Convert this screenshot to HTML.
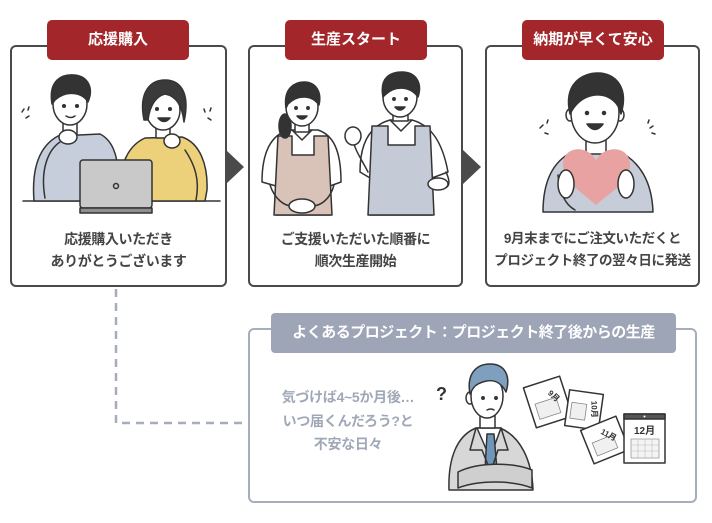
<!DOCTYPE html>
<html lang="ja">
<head>
<meta charset="utf-8">
<style>
  html,body{margin:0;padding:0;background:#fff;}
  body{width:712px;height:523px;position:relative;overflow:hidden;
    font-family:"Liberation Sans","Noto Sans CJK JP",sans-serif;}
  .box{position:absolute;box-sizing:border-box;border:2px solid #4a4a4a;border-radius:6px;background:#fff;}
  .lbl{position:absolute;height:40px;line-height:40px;background:#a3262a;color:#fff;
    font-weight:bold;font-size:15px;text-align:center;border-radius:5px;}
  .txt{position:absolute;text-align:center;font-weight:bold;font-size:14px;line-height:22px;color:#444;letter-spacing:-0.4px;white-space:nowrap;}
  .bbox{position:absolute;box-sizing:border-box;border:2.5px solid #a6aebe;border-radius:6px;background:#fff;}
  .blbl{position:absolute;height:40px;line-height:40px;background:#9da5b7;color:#fff;font-weight:bold;font-size:15px;text-align:center;border-radius:4px;letter-spacing:-0.5px;white-space:nowrap;}
  .btxt{position:absolute;text-align:center;font-size:14px;font-weight:bold;line-height:23.5px;color:#a0a8b7;white-space:nowrap;letter-spacing:-0.3px;}
  svg{position:absolute;left:0;top:0;}
</style>
</head>
<body>

<div class="box" style="left:10px;top:45px;width:217px;height:242px;"></div>
<div class="box" style="left:248px;top:45px;width:215px;height:242px;"></div>
<div class="box" style="left:485px;top:45px;width:215px;height:242px;"></div>

<div class="lbl" style="left:47px;top:20px;width:142px;">応援購入</div>
<div class="lbl" style="left:285px;top:20px;width:142px;">生産スタート</div>
<div class="lbl" style="left:522px;top:20px;width:142px;">納期が早くて安心</div>

<div class="txt" style="left:10px;top:228px;width:217px;">応援購入いただき<br>ありがとうございます</div>
<div class="txt" style="left:248px;top:228px;width:215px;">ご支援いただいた順番に<br>順次生産開始</div>
<div class="txt" style="left:485px;top:228px;width:215px;font-size:13.5px;">9月末までにご注文いただくと<br>プロジェクト終了の翌々日に発送</div>

<div class="bbox" style="left:248px;top:328px;width:449px;height:175px;"></div>
<div class="blbl" style="left:271px;top:313px;width:405px;">よくあるプロジェクト：プロジェクト終了後からの生産</div>
<div class="btxt" style="left:268px;top:386px;width:160px;">気づけば4~5か月後…<br>いつ届くんだろう?と<br>不安な日々</div>

<svg width="712" height="523" viewBox="0 0 712 523" xmlns="http://www.w3.org/2000/svg">
  <!-- arrows -->
  <polygon points="226,150 244,167 226,184" fill="#4a4a4a"/>
  <polygon points="463,150 481,167 463,184" fill="#4a4a4a"/>
  <!-- dashed connector -->
  <path d="M116 289 V423 H247" fill="none" stroke="#a6aebe" stroke-width="2.5" stroke-dasharray="8 6"/>

  <g stroke="#333" stroke-width="1.5" stroke-linejoin="round" stroke-linecap="round">
    <!-- ===== Box 1 ===== -->
    <line x1="23" y1="201" x2="220" y2="201"/>
    <!-- woman -->
    <path d="M120 201 C118 175 123 148 145 138 L182 137 C200 143 208 165 207 190 L205 201 Z" fill="#edd07a"/>
    <rect x="156" y="126" width="14" height="12" fill="#fff"/>
    <ellipse cx="163" cy="110" rx="17" ry="20" fill="#fff"/>
    <path d="M144 120 C138 90 152 80 165 80 C182 80 190 95 184 122 C182 105 176 96 165 94 C157 96 150 104 148 120 Z" fill="#3a3a3a"/>
    <circle cx="157" cy="109" r="1.3" fill="#333"/><circle cx="170" cy="109" r="1.3" fill="#333"/>
    <path d="M158 118 Q164 125 170 118 Z" fill="#333"/>
    <path d="M185 150 C195 165 200 180 196 200" fill="none"/>
    <ellipse cx="172" cy="141" rx="8" ry="7" fill="#fff"/>
    <!-- man -->
    <path d="M34 201 C32 175 36 148 58 136 L100 134 C112 140 118 155 118 175 L118 201 Z" fill="#c6cedb"/>
    <rect x="63" y="122" width="14" height="13" fill="#fff"/>
    <ellipse cx="70" cy="104" rx="17" ry="21" fill="#fff"/>
    <path d="M52 104 C48 80 62 74 74 75 C88 76 94 88 88 102 C82 92 66 90 55 100 Z" fill="#333"/>
    <circle cx="64" cy="106" r="1.3" fill="#333"/><circle cx="77" cy="106" r="1.3" fill="#333"/>
    <path d="M66 116 Q71 119 75 116" fill="none"/>
    <path d="M45 198 C40 170 48 150 60 142" fill="none"/>
    <ellipse cx="68" cy="137" rx="9" ry="7" fill="#fff"/>
    <!-- laptop -->
    <rect x="80" y="160" width="72" height="48" rx="3" fill="#c9c9c9"/>
    <rect x="80" y="208" width="72" height="5" fill="#8f8f8f"/>
    <circle cx="116" cy="186" r="2.5" fill="none"/>
    <!-- sparkles -->
    <path d="M22 112 l2 -3 M26 118 l3 -2 M28 110 l1 -3" fill="none"/>
    <path d="M205 112 l-1 -3 M208 118 l3 2 M210 111 l1 -3" fill="none"/>

    <!-- ===== Box 2 ===== -->
    <!-- woman -->
    <path d="M262 182 C262 150 272 135 288 130 L318 130 C333 135 341 150 341 182 L330 186 L330 215 L276 215 L276 186 Z" fill="#fff"/>
    <path d="M278 136 L292 136 L292 155 L314 155 L314 136 L328 136 L332 215 L274 215 Z" fill="#d9c2b7"/>
    <path d="M292 130 L302 140 L312 130" fill="none"/>
    <ellipse cx="285" cy="126" rx="6" ry="12" fill="#333"/>
    <rect x="295" y="120" width="14" height="12" fill="#fff"/>
    <ellipse cx="302" cy="107" rx="16" ry="19" fill="#fff"/>
    <path d="M286 108 C283 88 295 82 304 82 C316 82 322 92 319 105 C312 95 298 94 288 104 Z" fill="#333"/>
    <circle cx="296" cy="108" r="1.2" fill="#333"/><circle cx="308" cy="108" r="1.2" fill="#333"/>
    <path d="M297 116 Q302 122 307 116 Z" fill="#333"/>
    <path d="M270 185 C275 200 285 206 292 206 M334 185 C330 200 320 206 312 206" fill="none"/>
    <ellipse cx="302" cy="206" rx="13" ry="7" fill="#fff"/>
    <!-- man -->
    <path d="M360 172 C360 140 372 125 390 120 L412 120 C430 125 442 140 448 172 L432 178 L432 215 L370 215 L370 178 Z" fill="#fff"/>
    <path d="M372 126 L388 126 L388 145 L415 145 L415 126 L430 126 L434 215 L368 215 Z" fill="#c4cbd7"/>
    <path d="M390 120 L401 131 L412 120" fill="none"/>
    <path d="M368 172 C362 160 356 152 354 144" fill="none"/>
    <ellipse cx="353" cy="136" rx="8" ry="9" fill="#fff"/>
    <path d="M446 172 C452 185 448 190 440 186" fill="none"/>
    <ellipse cx="438" cy="184" rx="10" ry="6" fill="#fff"/>
    <rect x="393" y="108" width="15" height="13" fill="#fff"/>
    <ellipse cx="400" cy="97" rx="17" ry="20" fill="#fff"/>
    <path d="M383 97 C379 76 392 72 402 72 C415 72 423 82 418 97 C410 86 395 85 385 95 Z" fill="#333"/>
    <circle cx="394" cy="99" r="1.2" fill="#333"/><circle cx="406" cy="99" r="1.2" fill="#333"/>
    <path d="M395 107 Q400 113 405 107 Z" fill="#333"/>

    <!-- ===== Box 3 ===== -->
    <path d="M543 212 C543 182 552 162 572 152 L620 152 C640 162 652 182 653 212 Z" fill="#c6cdd9"/>
    <rect x="586" y="138" width="20" height="16" fill="#fff"/>
    <ellipse cx="570" cy="115" rx="4" ry="6" fill="#fff"/>
    <ellipse cx="620" cy="115" rx="4" ry="6" fill="#fff"/>
    <ellipse cx="595" cy="113" rx="24" ry="30" fill="#fff"/>
    <path d="M570 114 C563 84 582 73 598 73 C616 73 629 88 621 114 C618 100 605 92 590 96 C580 99 574 106 570 114 Z" fill="#333"/>
    <circle cx="587" cy="113" r="1.5" fill="#333"/><circle cx="604" cy="113" r="1.5" fill="#333"/>
    <path d="M587 124 Q595 135 603 124 Z" fill="#333"/>
    <path d="M596 160 C588 145 563 145 563 165 C563 182 585 195 596 205 C607 195 630 182 630 165 C630 145 604 145 596 160 Z" fill="#e9a2a2" stroke="none"/>
    <path d="M558 175 C560 195 566 205 575 210" fill="none"/>
    <ellipse cx="566" cy="184" rx="8" ry="14" fill="#fff"/>
    <ellipse cx="626" cy="184" rx="8" ry="14" fill="#fff"/>
    <path d="M540 128 l3 -3 M545 133 l3 1 M547 123 l1 -3" fill="none"/>
    <path d="M648 123 l1 -3 M650 128 l3 -2 M652 133 l3 1" fill="none"/>

    <!-- ===== Bottom illustration ===== -->
    <text x="436" y="400" font-family="Liberation Sans, sans-serif" font-size="18" font-weight="bold" fill="#333" stroke="none">?</text>
    <path d="M449 490 C448 460 456 436 476 428 L500 428 C520 436 532 460 533 490 Z" fill="#d7d7d7"/>
    <path d="M477 428 L490 458 L501 428 Z" fill="#fff"/>
    <path d="M487 434 L494 434 L497 470 L491 478 L485 470 Z" fill="#6f96ba"/>
    <path d="M476 428 L470 450 L482 450 L488 465 M501 428 L508 450 L498 450 L493 465" fill="none"/>
    <path d="M458 472 C478 462 512 462 532 470 L532 488 C512 480 478 480 458 488 Z" fill="#cfcfcf"/>
    <rect x="480" y="412" width="15" height="16" fill="#fff"/>
    <ellipse cx="470" cy="398" rx="4" ry="6" fill="#fff"/>
    <ellipse cx="487" cy="396" rx="16" ry="22" fill="#fff"/>
    <path d="M470 394 C466 372 478 364 490 364 C505 364 511 376 506 392 C500 380 490 378 478 384 C474 386 472 390 470 394 Z" fill="#7f9fbf"/>
    <circle cx="483" cy="398" r="1.2" fill="#333"/><circle cx="496" cy="398" r="1.2" fill="#333"/>
    <path d="M487 410 Q491 408 494 410" fill="none"/>

    <!-- calendar pages -->
    <g transform="translate(548 402) rotate(-18)">
      <rect x="-19" y="-21" width="38" height="42" fill="#fff"/>
      <rect x="-13" y="-2" width="22" height="16" fill="#f0f0f0" stroke="#888" stroke-width="0.8"/>
      <text x="2" y="-8" font-family="Liberation Sans, Noto Sans CJK JP, sans-serif" font-size="8" font-weight="bold" fill="#333" stroke="none" transform="rotate(60 2 -8)">9月</text>
    </g>
    <g transform="translate(584 410) rotate(8)">
      <rect x="-17" y="-18" width="34" height="36" fill="#fff"/>
      <rect x="-13" y="-6" width="15" height="16" fill="#f0f0f0" stroke="#888" stroke-width="0.8"/>
      <text x="6" y="-10" font-family="Liberation Sans, Noto Sans CJK JP, sans-serif" font-size="8" font-weight="bold" fill="#333" stroke="none" transform="rotate(80 6 -10)">10月</text>
    </g>
    <g transform="translate(605 440) rotate(-22)">
      <rect x="-19" y="-18" width="38" height="36" fill="#fff"/>
      <rect x="-13" y="-2" width="22" height="14" fill="#f0f0f0" stroke="#888" stroke-width="0.8"/>
      <text x="-2" y="-8" font-family="Liberation Sans, Noto Sans CJK JP, sans-serif" font-size="8" font-weight="bold" fill="#333" stroke="none" transform="rotate(50 -2 -8)">11月</text>
    </g>
    <rect x="624" y="414" width="41" height="49" fill="#fff"/>
    <rect x="624" y="414" width="41" height="5" fill="#555"/>
    <circle cx="644.5" cy="416.5" r="1" fill="#fff" stroke="none"/>
    <text x="634" y="434" font-family="Liberation Sans, Noto Sans CJK JP, sans-serif" font-size="10" font-weight="bold" fill="#333" stroke="none">12月</text>
    <rect x="631" y="439" width="28" height="19" fill="#f4f4f4" stroke="#999" stroke-width="0.8"/>
    <path d="M638 439 V458 M645 439 V458 M652 439 V458 M631 445 H659 M631 451 H659" stroke="#bbb" stroke-width="0.6" fill="none"/>
  </g>
</svg>
</body>
</html>
